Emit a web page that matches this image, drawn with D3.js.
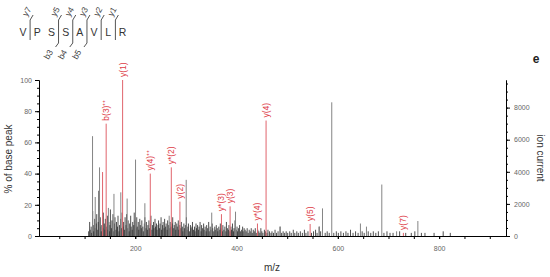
<!DOCTYPE html>
<html>
<head>
<meta charset="utf-8">
<script src="https://cdn.jsdelivr.net/npm/d3@7"></script>
<style>
  body { margin: 0; background: #fff; }
  svg { font-family: "Liberation Sans", Arial, sans-serif; }
</style>
</head>
<body>
<div id="chart"></div>
<script>
// peptide header
var residues = ["V", "P", "S", "S", "A", "V", "L", "R"];
var yIonNames = ["y7", "y5", "y4", "y3", "y2", "y1"];
var yIonAfter = [0, 2, 3, 4, 5, 6];
var bIonNames = ["b3", "b4", "b5"];
var bIonAfter = [2, 3, 4];

// labelled fragment ions (red)
var ionLabels = ["", "b(3)⁺⁺", "y(1)", "y(4)⁺⁺", "y*(2)", "y(2)", "y*(3)", "y(3)", "y*(4)", "y(4)", "y(5)", "y(7)"];
var ionMz     = [135.5, 142.6, 175.1, 229.7, 271.2, 288.2, 370.2, 387.3, 441.3, 458.3, 545.3, 729.4];
var ionPct    = [41, 72, 100, 40, 44, 22, 14, 19, 8, 74, 7.7, 2];

// larger unassigned peaks (grey)
var peakMz  = [115.7, 121, 129.5, 147, 158, 171.5, 184, 200.6, 219, 267, 300.6, 351, 398, 486, 563.6, 569.7, 588, 644.6, 656.5, 686.8, 716, 758, 808.5];
var peakPct = [64, 25, 44, 18, 27, 28, 24, 49, 21, 13, 36, 15, 15.6, 6, 6, 17.7, 85.7, 8, 6, 33, 3, 9.6, 2];

// small background peaks [m/z, %]
var noisePeaks = [
  [108,3],[110,9],[111,4],[113,6],[114,2],[116,16],[117,7],[118,3],[120,11],[121,5],[123,8],[124,14],[126,4],[127,9],[128,29],
  [130,6],[131,12],[133,3],[134,7],[136,5],[137,15],[139,8],[140,4],[141,11],[143,6],[145,13],[146,4],[148,9],[149,3],[150,7],
  [151,17],[153,5],[154,10],[156,14],[157,3],[159,8],[160,12],[162,4],[163,9],[165,6],[166,13],[168,3],[169,7],[171,11],[173,5],
  [174,15],[176,6],[177,9],[179,4],[180,12],[182,7],[183,14],[185,5],[186,10],[188,3],[189,8],[191,13],[192,6],[194,4],[195,9],
  [197,7],[198,15],[200,10],[201,5],[203,12],[204,6],[206,9],[207,4],[209,11],[210,7],[212,5],[213,10],[215,6],[216,3],[218,8],
  [219,12],[221,5],[222,9],[224,4],[225,7],[227,10],[228,5],[230,8],[231,13],[233,4],[234,7],[236,9],[237,5],[239,11],[240,6],
  [242,8],[243,4],[245,7],[246,10],[248,5],[249,8],[251,12],[252,4],[254,7],[255,9],[257,5],[258,11],[260,6],[261,8],[263,4],
  [264,10],[266,7],[268,5],[269,9],[271,6],[273,8],[274,12],[276,5],[277,7],[279,9],[280,4],[282,8],[283,6],[285,10],[286,4],
  [288,7],[290,5],[291,9],[293,6],[294,3],[296,8],[297,5],[299,7],[301,12],[302,4],[304,6],[305,8],[307,3],[309,7],[310,5],
  [312,6],[313,9],[315,4],[317,6],[318,3],[320,8],[321,5],[323,7],[325,4],[326,6],[328,9],[330,3],[331,7],[333,5],[335,8],
  [336,4],[338,6],[340,3],[341,7],[343,5],[345,9],[346,3],[348,6],[350,4],[352,8],[353,5],[355,3],[357,6],[358,4],[360,7],
  [362,5],[363,3],[365,6],[367,4],[368,8],[370,5],[372,3],[373,7],[375,4],[377,6],[379,3],[380,9],[382,5],[384,4],[385,7],
  [387,3],[389,6],[390,4],[392,8],[394,3],[395,5],[397,10],[399,4],[401,6],[402,3],[404,5],[406,7],[408,3],[410,4],[412,6],
  [413,3],[415,5],[417,4],[419,3],[421,5],[423,2],[425,4],[427,3],[429,5],[431,2],[433,4],[435,3],[437,5],[439,2],[442,4],
  [444,3],[446,2],[448,5],[450,3],[452,2],[455,4],[457,3],[460,2],[462,4],[465,3],[468,2],[470,3],[473,2],[476,4],[479,2],
  [482,3],[486,6],[489,2],[492,3],[495,2],[498,3],[501,2],[505,3],[508,2],[512,4],[515,2],[519,3],[522,2],[526,3],[530,2],
  [534,4],[537,2],[541,3],[548,2],[552,3],[556,4],[559,2],[563,6],[566,3],[575,2],[579,3],[583,2],[592,2],[597,3],[601,2],
  [606,3],[611,2],[616,3],[620,2],[625,4],[630,2],[635,3],[640,2],[648,3],[652,2],[660,3],[665,2],[670,3],[675,2],[680,3],
  [691,2],[697,3],[703,2],[709,2],[722,3],[734,2],[745,2],[752,3],[765,2],[772,2],[790,2],[808,3],[822,2]
];

var mzDomain = [10, 932];
var pctTicks = [0, 20, 40, 60, 80, 100];
var mzTicks = [200, 400, 600, 800];
var ionTicks = [0, 2000, 4000, 6000, 8000];
var ionMax = 9720;

var width = 550, height = 277;
var margin = {top: 80, right: 44, bottom: 41, left: 39};

var svg = d3.select("#chart").append("svg")
    .attr("width", width)
    .attr("height", height);

//比例尺
var x = d3.scaleLinear().domain(mzDomain).range([margin.left, width - margin.right]);
var y = d3.scaleLinear().domain([0, 100]).range([height - margin.bottom, margin.top]);
var y2 = d3.scaleLinear().domain([0, ionMax]).range([height - margin.bottom, margin.top]);

//背景小峰
svg.append("g").attr("id", "noise")
    .selectAll("line")
    .data(noisePeaks)
    .enter()
    .append("line")
    .attr("x1", function (d) { return x(d[0]); })
    .attr("x2", function (d) { return x(d[0]); })
    .attr("y1", y(0))
    .attr("y2", function (d) { return y(d[1]); })
    .attr("stroke", "#333")
    .attr("stroke-opacity", 0.85);

//灰色峰
svg.append("g").attr("id", "peaks")
    .selectAll("line")
    .data(peakMz)
    .enter()
    .append("line")
    .attr("x1", function (d) { return x(d); })
    .attr("x2", function (d) { return x(d); })
    .attr("y1", y(0))
    .attr("y2", function (d, i) { return y(peakPct[i]); })
    .attr("stroke", "#858585");

//红色离子峰
var ions = svg.append("g").attr("id", "ions");
ions.selectAll("line")
    .data(ionMz)
    .enter()
    .append("line")
    .attr("x1", function (d) { return x(d); })
    .attr("x2", function (d) { return x(d); })
    .attr("y1", y(0))
    .attr("y2", function (d, i) { return y(ionPct[i]); })
    .attr("stroke", "#e0646c");

ions.selectAll("text")
    .data(ionMz)
    .enter()
    .append("text")
    .attr("transform", function (d, i) {
        return "translate(" + x(d) + "," + (y(ionPct[i]) - 3) + ") rotate(-90)";
    })
    .attr("dy", "0.35em")
    .attr("font-size", 8.5)
    .attr("fill", "#dd3b45")
    .text(function (d, i) { return ionLabels[i]; });

//坐标轴
var axisStyle = function (g) {
    g.selectAll("path").attr("stroke", "#000");
    g.selectAll("line").attr("stroke", "#000");
    g.selectAll("text").attr("fill", "#666").attr("font-size", 7);
};

svg.append("g")
    .attr("transform", "translate(" + margin.left + ",0)")
    .call(d3.axisLeft(y).tickValues(d3.range(0, 101, 5)).tickFormat("").tickSize(2).tickSizeOuter(0))
    .call(axisStyle);
svg.append("g")
    .attr("transform", "translate(" + margin.left + ",0)")
    .call(d3.axisLeft(y).tickValues(pctTicks).tickSize(4).tickSizeOuter(0).tickPadding(3))
    .call(axisStyle);

svg.append("g")
    .attr("transform", "translate(" + (width - margin.right) + ",0)")
    .call(d3.axisRight(y2).tickValues(d3.range(0, ionMax, 500)).tickFormat("").tickSize(2).tickSizeOuter(0))
    .call(axisStyle);
svg.append("g")
    .attr("transform", "translate(" + (width - margin.right) + ",0)")
    .call(d3.axisRight(y2).tickValues(ionTicks).tickFormat(d3.format("d")).tickSize(4).tickSizeOuter(0).tickPadding(4))
    .call(axisStyle);

svg.append("g")
    .attr("transform", "translate(0," + (height - margin.bottom) + ")")
    .call(d3.axisBottom(x).tickValues(d3.range(50, 931, 50)).tickFormat("").tickSize(3).tickSizeOuter(0))
    .call(axisStyle);
svg.append("g")
    .attr("transform", "translate(0," + (height - margin.bottom) + ")")
    .call(d3.axisBottom(x).tickValues(mzTicks).tickFormat(d3.format("d")).tickSize(3).tickSizeOuter(0).tickPadding(7))
    .call(axisStyle);

//坐标轴标题
svg.append("text")
    .attr("transform", "translate(12,159) rotate(-90)")
    .attr("text-anchor", "middle")
    .attr("font-size", 10)
    .attr("fill", "#333")
    .text("% of base peak");
svg.append("text")
    .attr("transform", "translate(537,158) rotate(90)")
    .attr("text-anchor", "middle")
    .attr("font-size", 10)
    .attr("fill", "#333")
    .text("ion current");
svg.append("text")
    .attr("x", 272)
    .attr("y", 271)
    .attr("text-anchor", "middle")
    .attr("font-size", 10)
    .attr("fill", "#333")
    .text("m/z");
svg.append("text")
    .attr("x", 536)
    .attr("y", 63)
    .attr("text-anchor", "middle")
    .attr("font-size", 12)
    .attr("font-weight", "bold")
    .attr("fill", "#222")
    .text("e");

//肽段序列
var px = d3.scalePoint().domain(d3.range(residues.length)).range([23, 122.5]);
var sepX = function (i) { return (px(i) + px(i + 1)) / 2; };
var head = svg.append("g").attr("id", "peptide");

head.selectAll("text.res")
    .data(residues)
    .enter()
    .append("text")
    .attr("class", "res")
    .attr("x", function (d, i) { return px(i); })
    .attr("y", 36)
    .attr("text-anchor", "middle")
    .attr("font-size", 10.5)
    .attr("fill", "#333")
    .text(function (d) { return d; });

var yIon = head.selectAll("g.yion")
    .data(yIonAfter)
    .enter()
    .append("g")
    .attr("class", "yion");
yIon.append("path")
    .attr("d", function (d, i) {
        var s = sepX(d);
        var bot = bIonAfter.indexOf(d) >= 0 ? 43 : 40;
        return "M" + s + "," + bot + "V20L" + (s + 3) + ",15";
    })
    .attr("fill", "none")
    .attr("stroke", "#555");
yIon.append("text")
    .attr("transform", function (d) { return "translate(" + (sepX(d) - 3) + ",17) rotate(-60)"; })
    .attr("font-size", 8.5)
    .attr("fill", "#444")
    .text(function (d, i) { return yIonNames[i]; });

var bIon = head.selectAll("g.bion")
    .data(bIonAfter)
    .enter()
    .append("g")
    .attr("class", "bion");
bIon.append("path")
    .attr("d", function (d) {
        var s = sepX(d);
        return "M" + s + ",43L" + (s - 3) + ",47";
    })
    .attr("fill", "none")
    .attr("stroke", "#555");
bIon.append("text")
    .attr("transform", function (d) { return "translate(" + (sepX(d) - 10) + ",60) rotate(-60)"; })
    .attr("font-size", 8.5)
    .attr("fill", "#444")
    .text(function (d, i) { return bIonNames[i]; });
</script>
</body>
</html>
